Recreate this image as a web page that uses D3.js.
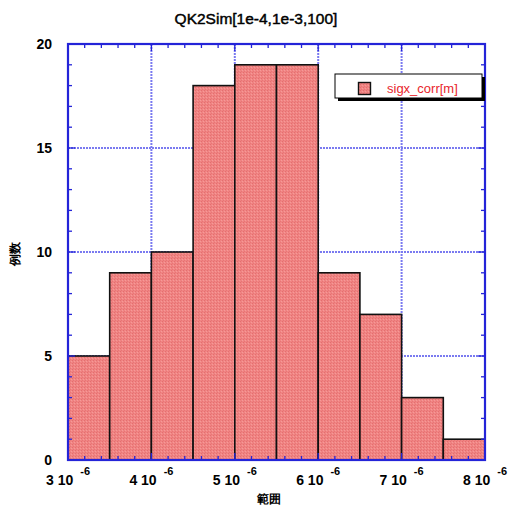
<!DOCTYPE html>
<html>
<head>
<meta charset="utf-8">
<script src="https://cdn.jsdelivr.net/npm/d3@7"></script>
<style>
  html, body { margin: 0; padding: 0; background: #fff; }
  svg { display: block; }
  text { font-family: "Liberation Sans", Arial, Helvetica, sans-serif; }
</style>
</head>
<body>
<svg id="chart" width="508" height="506"></svg>
<script>
// Histogram bins (lower edge, in metres) and their counts
const binStarts = [3.0e-6, 3.5e-6, 4.0e-6, 4.5e-6, 5.0e-6, 5.5e-6, 6.0e-6, 6.5e-6, 7.0e-6, 7.5e-6];
const binWidth = 0.5e-6;
const counts = [5, 9, 10, 18, 19, 19, 9, 7, 3, 1];
const xTicks = [3e-6, 4e-6, 5e-6, 6e-6, 7e-6, 8e-6];
const xTickMantissa = ["3", "4", "5", "6", "7", "8"];
const yTicks = [0, 5, 10, 15, 20];
const titleText = "QK2Sim[1e-4,1e-3,100]";
const seriesName = "sigx_corr[m]";
const xLabel = "範囲";
const yLabel = "例数";

const svg = d3.select("#chart");
const plotL = 68, plotR = 485, plotT = 44, plotB = 460;
const frameBlue = "#2424d8";
const gridBlue = "#7a7af0";

const x = d3.scaleLinear().domain([3e-6, 8e-6]).range([plotL, plotR]);
const y = d3.scaleLinear().domain([0, 20]).range([plotB, plotT]);

// Fine crosshatch texture for the bar fill
const defs = svg.append("defs");
const pat = defs.append("pattern").attr("id", "barFill")
  .attr("patternUnits", "userSpaceOnUse").attr("width", 3).attr("height", 3);
pat.append("rect").attr("width", 3).attr("height", 3).attr("fill", "#f08483");
pat.append("rect").attr("x", 0).attr("y", 0).attr("width", 1).attr("height", 1).attr("fill", "#e46f6f");
pat.append("rect").attr("x", 2).attr("y", 1).attr("width", 1).attr("height", 1).attr("fill", "#f59a98");
pat.append("rect").attr("x", 1).attr("y", 2).attr("width", 1).attr("height", 1).attr("fill", "#e87676");

// Dotted grid at major ticks
const grid = svg.append("g");
grid.selectAll("line.gx").data(xTicks.slice(1, -1)).join("line")
  .attr("x1", d => x(d)).attr("x2", d => x(d)).attr("y1", plotT).attr("y2", plotB)
  .attr("stroke", gridBlue).attr("stroke-width", 2).attr("stroke-dasharray", "2,1");
grid.selectAll("line.gy").data(yTicks.slice(1, -1)).join("line")
  .attr("y1", d => y(d)).attr("y2", d => y(d)).attr("x1", plotL).attr("x2", plotR)
  .attr("stroke", gridBlue).attr("stroke-width", 2).attr("stroke-dasharray", "2,1");

// Bars
svg.append("g").selectAll("rect").data(counts).join("rect")
  .attr("x", (d, i) => x(binStarts[i]))
  .attr("y", d => y(d))
  .attr("width", (d, i) => x(binStarts[i] + binWidth) - x(binStarts[i]))
  .attr("height", d => y(0) - y(d))
  .attr("fill", "url(#barFill)")
  .attr("stroke", "#111").attr("stroke-width", 1.6);

// Ticks pointing inward on all four sides (minor 4px, major 7px)
const xMinor = d3.range(3e-6, 8e-6 + 1e-9, 0.2e-6).filter(v => Math.abs(v / 1e-6 - Math.round(v / 1e-6)) > 1e-3);
const yMinor = d3.range(0, 21, 1).filter(v => v % 5 !== 0);
const ticks = svg.append("g").attr("stroke", frameBlue).attr("stroke-width", 1.3);
function xTickLines(data, len) {
  ticks.append("g").selectAll("line").data(data).join("line")
    .attr("x1", d => x(d)).attr("x2", d => x(d)).attr("y1", plotB).attr("y2", plotB - len);
  ticks.append("g").selectAll("line").data(data).join("line")
    .attr("x1", d => x(d)).attr("x2", d => x(d)).attr("y1", plotT).attr("y2", plotT + len);
}
function yTickLines(data, len) {
  ticks.append("g").selectAll("line").data(data).join("line")
    .attr("y1", d => y(d)).attr("y2", d => y(d)).attr("x1", plotL).attr("x2", plotL + len);
  ticks.append("g").selectAll("line").data(data).join("line")
    .attr("y1", d => y(d)).attr("y2", d => y(d)).attr("x1", plotR).attr("x2", plotR - len);
}
xTickLines(xMinor, 4);
yTickLines(yMinor, 4);
xTickLines(xTicks, 7);
yTickLines(yTicks, 7);

// Plot frame
svg.append("rect").attr("x", plotL).attr("y", plotT)
  .attr("width", plotR - plotL).attr("height", plotB - plotT)
  .attr("fill", "none").attr("stroke", frameBlue).attr("stroke-width", 2.2);

// Y tick labels
svg.append("g").selectAll("text").data(yTicks).join("text")
  .attr("x", 52).attr("y", d => y(d)).attr("dy", "0.36em")
  .attr("text-anchor", "end").attr("font-size", 14).attr("font-weight", "bold")
  .text(d => d);

// X tick labels: "m 10" with superscript exponent
const xl = svg.append("g").selectAll("text").data(xTicks).join("text")
  .attr("x", d => x(d)).attr("y", 485)
  .attr("text-anchor", "middle").attr("font-size", 14).attr("font-weight", "bold");
xl.append("tspan").text((d, i) => xTickMantissa[i] + " 10");
xl.append("tspan").attr("dx", 7).attr("dy", -10).attr("font-size", 11).text("-6");

// Axis titles
svg.append("text").attr("x", 269).attr("y", 503).attr("text-anchor", "middle")
  .attr("font-size", 12).attr("font-weight", "bold")
  .attr("font-family", "'Noto Sans CJK JP', sans-serif").text(xLabel);
svg.append("text").attr("transform", "translate(19,254) rotate(-90)").attr("text-anchor", "middle")
  .attr("font-size", 12).attr("font-weight", "bold")
  .attr("font-family", "'Noto Sans CJK JP', sans-serif").text(yLabel);

// Title
svg.append("text").attr("x", 256).attr("y", 24).attr("text-anchor", "middle")
  .attr("font-size", 15.5).attr("stroke", "#000").attr("stroke-width", 0.45)
  .text(titleText);

// Legend with drop shadow
const lg = svg.append("g");
lg.append("rect").attr("x", 338).attr("y", 77).attr("width", 147).attr("height", 24).attr("fill", "#000");
lg.append("rect").attr("x", 335).attr("y", 74).attr("width", 147).attr("height", 24)
  .attr("fill", "#fff").attr("stroke", "#000").attr("stroke-width", 1);
lg.append("rect").attr("x", 358.5).attr("y", 82.5).attr("width", 12).attr("height", 12)
  .attr("fill", "url(#barFill)").attr("stroke", "#111").attr("stroke-width", 1.4);
lg.append("text").attr("x", 387).attr("y", 93).attr("font-size", 13)
  .attr("fill", "#e8252b").text(seriesName);
</script>
</body>
</html>
